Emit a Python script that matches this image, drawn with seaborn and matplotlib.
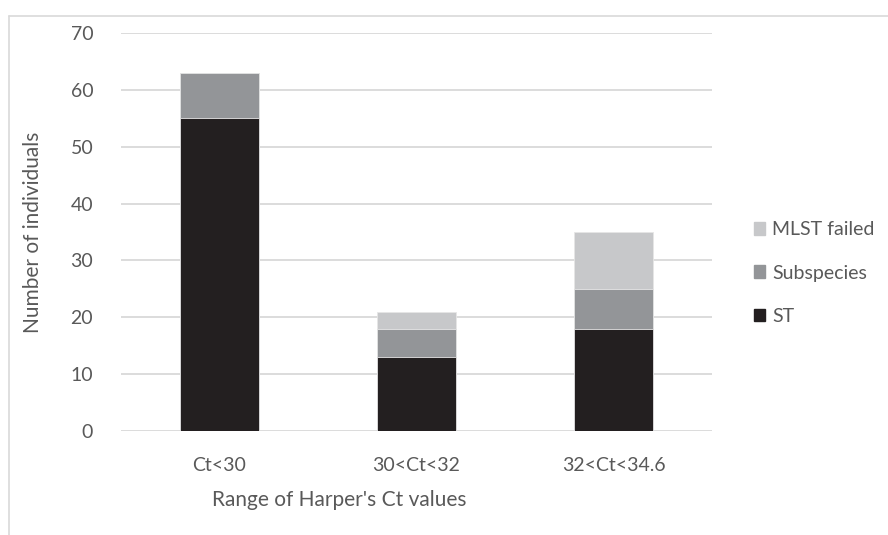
import pandas as pd
import matplotlib
matplotlib.use("Agg")
import matplotlib.pyplot as plt
import seaborn as sns
from matplotlib.patches import Patch

# Data
categories = ["Ct<30", "30<Ct<32", "32<Ct<34.6"]
st = [55, 13, 18]
subspecies = [8, 5, 7]
mlst_failed = [0, 3, 10]

colors = {"ST": "#231f20", "Subspecies": "#939598", "MLST failed": "#c7c8ca"}
text_color = "#595959"

df = pd.DataFrame({"range": categories, "ST": st,
                   "Subspecies": subspecies, "MLST failed": mlst_failed})
df["top_sub"] = df["ST"] + df["Subspecies"]
df["top_all"] = df["top_sub"] + df["MLST failed"]

sns.set_style("white")
plt.rcParams["font.family"] = ["Lato", "DejaVu Sans"]

fig = plt.figure(figsize=(8.88, 5.35), dpi=100)
ax = fig.add_axes([121 / 888, 1 - 431 / 535, 591 / 888, 398 / 535])

# stacked bars: draw cumulative totals back to front
for col, key in [("top_all", "MLST failed"), ("top_sub", "Subspecies"), ("ST", "ST")]:
    sns.barplot(data=df, x="range", y=col, color=colors[key], width=0.4,
                saturation=1, edgecolor="#e6e6e6", linewidth=0.6, ax=ax, zorder=3)

ax.set_xlim(-0.5, 2.5)
ax.set_ylim(0, 70)
ax.set_yticks(range(0, 71, 10))
ax.grid(axis="y", color="#d9d9d9", linewidth=1.3, zorder=0)
ax.grid(axis="x", visible=False)
for s in ax.spines.values():
    s.set_visible(False)
ax.tick_params(axis="both", length=0, labelsize=14, labelcolor=text_color)
ax.tick_params(axis="y", pad=20)
ax.tick_params(axis="x", pad=19)

ax.set_xlabel("Range of Harper's Ct values", fontsize=15, color=text_color)
ax.xaxis.set_label_coords(0.369, -0.148)
ax.set_ylabel("Number of individuals", fontsize=15, color=text_color)
ax.yaxis.set_label_coords(-0.132, 0.5)

handles = [Patch(color=colors[k]) for k in ["MLST failed", "Subspecies", "ST"]]
fig.legend(handles, ["MLST failed", "Subspecies", "ST"],
           loc="center left", bbox_to_anchor=(736 / 888, 1 - 273 / 535),
           frameon=False, fontsize=14, labelcolor=text_color,
           handlelength=0.6, handleheight=0.6, handletextpad=0.35,
           labelspacing=1.35)

# light frame around the chart area (left and top visible in the reference)
fig.add_artist(plt.Line2D([9 / 888, 9 / 888], [0, 1 - 16 / 535],
                          color="#d9d9d9", linewidth=1.2, transform=fig.transFigure))
fig.add_artist(plt.Line2D([9 / 888, 1], [1 - 16 / 535, 1 - 16 / 535],
                          color="#d9d9d9", linewidth=1.2, transform=fig.transFigure))

fig.savefig("out.png", dpi=100)
